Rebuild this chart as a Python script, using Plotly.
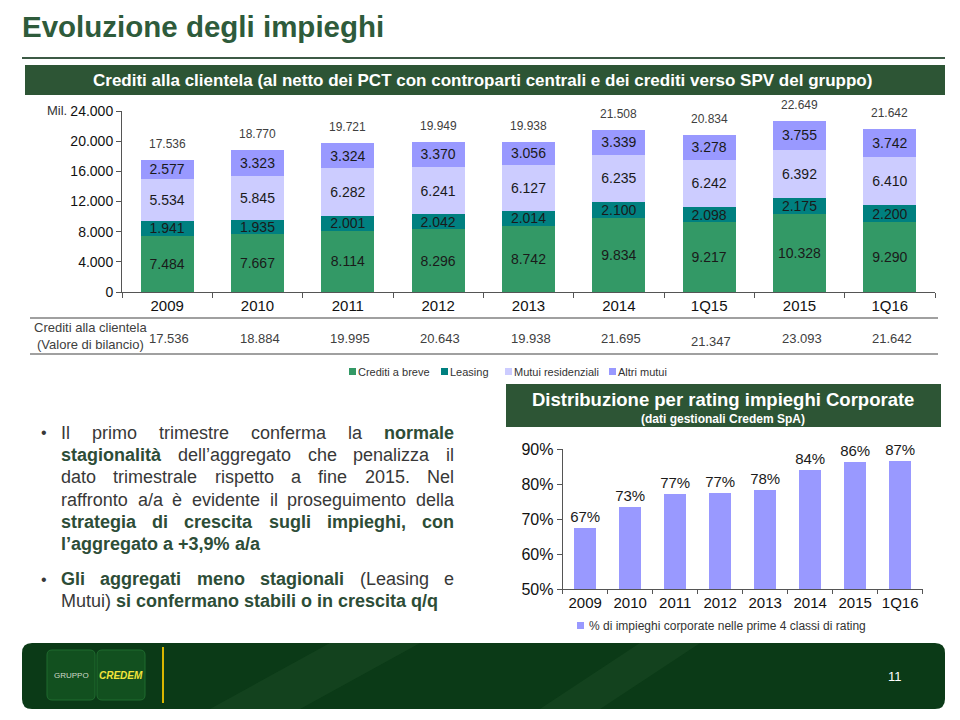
import plotly.graph_objects as go

# ---------------- data ----------------
categories = ["2009", "2010", "2011", "2012", "2013", "2014", "1Q15", "2015", "1Q16"]
crediti_breve = [7484, 7667, 8114, 8296, 8742, 9834, 9217, 10328, 9290]
leasing = [1941, 1935, 2001, 2042, 2014, 2100, 2098, 2175, 2200]
mutui_residenziali = [5534, 5845, 6282, 6241, 6127, 6235, 6242, 6392, 6410]
altri_mutui = [2577, 3323, 3324, 3370, 3056, 3339, 3278, 3755, 3742]
totali = [17536, 18770, 19721, 19949, 19938, 21508, 20834, 22649, 21642]
valore_bilancio = [17536, 18884, 19995, 20643, 19938, 21695, 21347, 23093, 21642]
y_ticks = [0, 4000, 8000, 12000, 16000, 20000, 24000]

rating_categories = ["2009", "2010", "2011", "2012", "2013", "2014", "2015", "1Q16"]
rating_pct = [67.4, 73.4, 77.1, 77.4, 78.2, 83.9, 86.4, 86.6]
rating_ticks = [50, 60, 70, 80, 90]

# page body has an 8px margin: figure is 944x704 placed at (8, 8)
OFF = 8
FW, FH = 960 - 2 * OFF, 720 - 2 * OFF
def px(x): return (x - OFF) / FW
def py(y): return 1 - (y - OFF) / FH
def it(v): return f"{v:,}".replace(",", ".")

GREEN_DARK = "#2d5535"
C_BREVE, C_LEAS, C_MRES, C_ALTRI = "#339966", "#008080", "#CCCCFF", "#9999FF"

annotations = []
shapes = []
def ann(x, y, text, size, color="#333333", xa="center", ya="middle", xref="paper", yref="paper", **kw):
    d = dict(x=x, y=y, xref=xref, yref=yref, text=text, showarrow=False, xanchor=xa, yanchor=ya,
             borderpad=0, borderwidth=0, font=dict(size=size, color=color, family="Arial"))
    d.update(kw)
    annotations.append(d)

fig = go.Figure()

series = [("Crediti a breve", crediti_breve, C_BREVE),
          ("Leasing", leasing, C_LEAS),
          ("Mutui residenziali", mutui_residenziali, C_MRES),
          ("Altri mutui", altri_mutui, C_ALTRI)]
for name, vals, col in series:
    fig.add_trace(go.Bar(
        x=categories, y=vals, name=name, marker=dict(color=col, line=dict(width=0)),
        width=0.59, text=[it(v) for v in vals], textposition="inside",
        insidetextanchor="middle", constraintext="none",
        textfont=dict(size=14, color="#1a1a1a", family="Arial"),
        xaxis="x", yaxis="y", showlegend=False, hoverinfo="skip"))

fig.add_trace(go.Bar(
    x=rating_categories, y=rating_pct,
    name="% di impieghi corporate nelle prime 4 classi di rating",
    marker=dict(color="#9999FF", line=dict(width=0)), width=0.5,
    text=[f"{round(v)}%" for v in rating_pct], textposition="outside",
    constraintext="none", cliponaxis=False,
    textfont=dict(size=15, color="#1a1a1a", family="Arial"),
    xaxis="x2", yaxis="y2", showlegend=False, hoverinfo="skip"))

# totals above bars
for i, t in enumerate(totali):
    ann(i, t, it(t), 12, "#404040", xref="x", yref="y", yshift=16)
# valore di bilancio row
for i, v in enumerate(valore_bilancio):
    yy = 342 if categories[i] == "1Q15" else 338
    ann(i, py(yy), it(v), 13, "#404040", xref="x", xshift=2)
ann(px(90), py(336), "Crediti alla clientela<br>(Valore di bilancio)", 13, "#404040", align="center")
ann(px(67), py(111), "Mil.", 13, "#333333", xa="right")
for yy in (318, 354):
    shapes.append(dict(type="line", xref="paper", yref="paper", x0=px(30), x1=px(938),
                       y0=py(yy), y1=py(yy), line=dict(color="#808080", width=1.5)))

# legend (main chart)
leg_items = [("Crediti a breve", C_BREVE, 352), ("Leasing", C_LEAS, 444),
             ("Mutui residenziali", C_MRES, 508), ("Altri mutui", C_ALTRI, 612)]
for name, col, lx in leg_items:
    shapes.append(dict(type="rect", xref="paper", yref="paper", x0=px(lx - 3), x1=px(lx + 4),
                       y0=py(375), y1=py(368), fillcolor=col, line=dict(width=0)))
    ann(px(lx + 6), py(371.5), name, 11, "#333333", xa="left")

# title + line + banners
ann(px(22), py(27), "<b>Evoluzione degli impieghi</b>", 29.5, "#2e5b3b", xa="left")
shapes.append(dict(type="line", xref="paper", yref="paper", x0=px(22), x1=px(945),
                   y0=py(58), y1=py(58), line=dict(color="#3c5a45", width=2)))
shapes.append(dict(type="rect", xref="paper", yref="paper", x0=px(25), x1=px(945),
                   y0=py(95), y1=py(65), fillcolor=GREEN_DARK, line=dict(width=0)))
ann(px(482), py(80),
    "<b>Crediti alla clientela (al netto dei PCT con controparti centrali e dei crediti verso SPV del gruppo)</b>",
    17, "white")
shapes.append(dict(type="rect", xref="paper", yref="paper", x0=px(506), x1=px(941),
                   y0=py(427), y1=py(384), fillcolor=GREEN_DARK, line=dict(width=0)))
ann(px(723), py(399), "<b>Distribuzione per rating impieghi Corporate</b>", 18.5, "white")
ann(px(723), py(419), "<b>(dati gestionali Credem SpA)</b>", 12, "white")

# legend (rating chart)
shapes.append(dict(type="rect", xref="paper", yref="paper", x0=px(577), x1=px(584),
                   y0=py(629), y1=py(622), fillcolor="#9999FF", line=dict(width=0)))
ann(px(589), py(625.5), "% di impieghi corporate nelle prime 4 classi di rating", 12, "#333333", xa="left")

# ---------------- bullet text (justified) ----------------
AR = {' ': 278, '(': 333, ')': 333, '+': 584, ',': 278, '.': 278, '/': 278, '%': 889, '’': 222,
      'a': 556, 'b': 556, 'c': 500, 'd': 556, 'e': 556, 'f': 278, 'g': 556, 'h': 556, 'i': 222,
      'j': 222, 'k': 500, 'l': 222, 'm': 833, 'n': 556, 'o': 556, 'p': 556, 'q': 556, 'r': 333,
      's': 500, 't': 278, 'u': 556, 'v': 500, 'w': 722, 'x': 500, 'y': 500, 'z': 500, 'à': 556,
      'è': 556, 'I': 278, 'L': 556, 'M': 833, 'N': 722, 'G': 778}
ARB = {' ': 278, '(': 333, ')': 333, '+': 584, ',': 278, '.': 278, '/': 278, '%': 889, '’': 278,
       'a': 556, 'b': 611, 'c': 556, 'd': 611, 'e': 556, 'f': 333, 'g': 611, 'h': 611, 'i': 278,
       'j': 278, 'k': 556, 'l': 278, 'm': 889, 'n': 611, 'o': 611, 'p': 611, 'q': 611, 'r': 389,
       's': 556, 't': 333, 'u': 611, 'v': 556, 'w': 778, 'x': 556, 'y': 556, 'z': 500, 'à': 556,
       'è': 556, 'I': 278, 'L': 611, 'M': 833, 'N': 722, 'G': 778}
FS = 18
def tw(s, b):
    tab = ARB if b else AR
    return sum(tab.get(ch, 556) for ch in s) * FS / 1000

lines = [
    (433, True, [("Il", 0), ("primo", 0), ("trimestre", 0), ("conferma", 0), ("la", 0), ("normale", 1)]),
    (455, True, [("stagionalità", 1), ("dell’aggregato", 0), ("che", 0), ("penalizza", 0), ("il", 0)]),
    (477, True, [("dato", 0), ("trimestrale", 0), ("rispetto", 0), ("a", 0), ("fine", 0), ("2015.", 0), ("Nel", 0)]),
    (500, True, [("raffronto", 0), ("a/a", 0), ("è", 0), ("evidente", 0), ("il", 0), ("proseguimento", 0), ("della", 0)]),
    (522, True, [("strategia", 1), ("di", 1), ("crescita", 1), ("sugli", 1), ("impieghi,", 1), ("con", 1)]),
    (544, False, [("l’aggregato", 1), ("a", 1), ("+3,9%", 1), ("a/a", 1)]),
    (579, True, [("Gli", 1), ("aggregati", 1), ("meno", 1), ("stagionali", 1), ("(Leasing", 0), ("e", 0)]),
    (601, False, [("Mutui)", 0), ("si", 1), ("confermano", 1), ("stabili", 1), ("o", 1), ("in", 1), ("crescita", 1), ("q/q", 1)]),
]
X0, X1 = 61, 454
REG_C, BOLD_C = "#383838", "#2d4d37"
for yy, just, words in lines:
    widths = [tw(w, b) for w, b in words]
    if just and len(words) > 1:
        gap = (X1 - X0 - sum(widths)) / (len(words) - 1)
    else:
        gap = 278 * FS / 1000
    x = X0
    for (w, b), wd in zip(words, widths):
        ann(px(x), py(yy), f"<b>{w}</b>" if b else w, FS, BOLD_C if b else REG_C, xa="left")
        x += wd + gap
for yy in (433, 579):
    ann(px(44), py(yy), "•", 16, REG_C)

# ---------------- footer ----------------
def rrect(x0, y0, x1, y1, r):
    return (f"M {px(x0+r)} {py(y0)} L {px(x1-r)} {py(y0)} Q {px(x1)} {py(y0)} {px(x1)} {py(y0+r)} "
            f"L {px(x1)} {py(y1-r)} Q {px(x1)} {py(y1)} {px(x1-r)} {py(y1)} "
            f"L {px(x0+r)} {py(y1)} Q {px(x0)} {py(y1)} {px(x0)} {py(y1-r)} "
            f"L {px(x0)} {py(y0+r)} Q {px(x0)} {py(y0)} {px(x0+r)} {py(y0)} Z")
shapes.append(dict(type="path", xref="paper", yref="paper", path=rrect(22, 643, 945, 709, 10),
                   fillcolor="#0b3a17", line=dict(width=0)))
for pts in ([(330, 643), (420, 643), (300, 709), (210, 709)],
            [(640, 643), (700, 643), (600, 709), (540, 709)]):
    path = "M " + " L ".join(f"{px(a)} {py(b)}" for a, b in pts) + " Z"
    shapes.append(dict(type="path", xref="paper", yref="paper", path=path,
                       fillcolor="rgba(80,130,80,0.12)", line=dict(width=0)))
shapes.append(dict(type="path", xref="paper", yref="paper", path=rrect(47, 650, 95, 700, 5),
                   fillcolor="#12501f", line=dict(color="#1f6a2e", width=1)))
shapes.append(dict(type="path", xref="paper", yref="paper", path=rrect(97, 650, 145, 700, 5),
                   fillcolor="#12501f", line=dict(color="#1f6a2e", width=1)))
shapes.append(dict(type="line", xref="paper", yref="paper", x0=px(163), x1=px(163),
                   y0=py(647), y1=py(703), line=dict(color="#d9b600", width=2)))
ann(px(71), py(675), "GRUPPO", 8, "#d0d8c8")
ann(px(121), py(675), "<b><i>CREDEM</i></b>", 10, "#f2e43a")
ann(px(895), py(676), "11", 13, "white")

# ---------------- layout ----------------
axis_line = "#555555"
fig.update_layout(
    width=FW, height=FH, autosize=False, margin=dict(l=0, r=0, t=0, b=0, autoexpand=False),
    paper_bgcolor="white", plot_bgcolor="rgba(0,0,0,0)",
    font=dict(family="Arial", color="#222222"),
    barmode="stack", showlegend=False,
    xaxis=dict(domain=[px(122), px(935)], anchor="y", type="category", range=[-0.5, 8.5],
               showline=True, linecolor=axis_line, linewidth=1, ticks="outside",
               tickson="boundaries", ticklen=5, tickcolor=axis_line, showgrid=False,
               tickangle=0, automargin=False, tickfont=dict(size=15, color="#111"), fixedrange=True),
    yaxis=dict(domain=[py(292), py(111)], anchor="x", range=[0, 24000], showline=True,
               linecolor=axis_line, linewidth=1, ticks="outside", ticklen=5, tickcolor=axis_line,
               tickvals=y_ticks, ticktext=[it(v) for v in y_ticks], showgrid=False, automargin=False,
               zeroline=False, tickfont=dict(size=14, color="#111")),
    xaxis2=dict(domain=[px(562.7), px(922.7)], anchor="y2", type="category", range=[-0.5, 7.5],
                showline=True, linecolor=axis_line, linewidth=1, ticks="outside",
                tickson="boundaries", ticklen=4, tickcolor=axis_line, showgrid=False,
                tickangle=0, automargin=False, tickfont=dict(size=15, color="#111")),
    yaxis2=dict(domain=[py(589), py(449)], anchor="x2", range=[50, 90], showline=True,
                linecolor=axis_line, linewidth=1, ticks="outside", ticklen=5, tickcolor=axis_line,
                tickvals=rating_ticks, ticktext=[f"{v}%" for v in rating_ticks], showgrid=False,
                automargin=False, zeroline=False, tickfont=dict(size=16, color="#111")),
    annotations=annotations, shapes=shapes,
)

fig.write_html("out.html")
